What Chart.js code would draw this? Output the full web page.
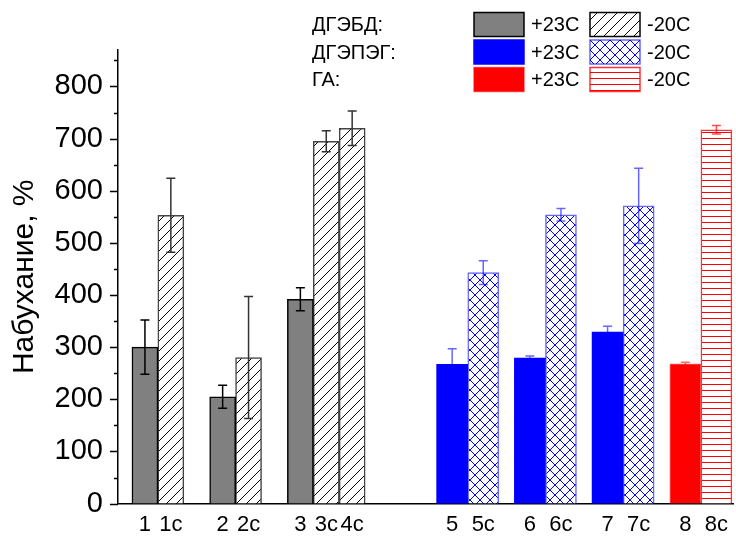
<!DOCTYPE html>
<html>
<head>
<meta charset="utf-8">
<script src="https://cdn.jsdelivr.net/npm/chart.js@4.4.1/dist/chart.umd.min.js"></script>
<style>
  html, body { margin: 0; padding: 0; background: #fff; }
</style>
</head>
<body>
<canvas id="swellChart" width="736" height="536"></canvas>
<script>
// ДГЭБД
const dgebdWarmLabels = ["1", "2", "3"];
const dgebdWarm = [300, 205, 392];
const dgebdWarmErr = [52, 22, 22];
const dgebdColdLabels = ["1c", "2c", "3c", "4c"];
const dgebdCold = [553, 280, 695, 720];
const dgebdColdErr = [71, 117, 20, 33];

// ДГЭПЭГ
const dgepegWarmLabels = ["5", "6", "7"];
const dgepegWarm = [267, 279, 329];
const dgepegWarmErr = [30, 4, 11];
const dgepegColdLabels = ["5c", "6c", "7c"];
const dgepegCold = [443, 554, 571];
const dgepegColdErr = [23, 12, 72];

// ГА
const gaWarmLabels = ["8"];
const gaWarm = [268];
const gaWarmErr = [3];
const gaColdLabels = ["8c"];
const gaCold = [717];
const gaColdErr = [8];

const yTicks = [0, 100, 200, 300, 400, 500, 600, 700, 800];
const legendRows = ["ДГЭБД:", "ДГЭПЭГ:", "ГА:"];
const legendTemps = ["+23C", "-20C"];

const FONT = 'Arial, "Liberation Sans", sans-serif';

// x axis runs in "pair" units: one pair of bars = one unit
const grayW = 1 / 3, blueW = 0.4;
const grayStart = 0.18, blueStart = 4.1;
const grayX = (pair, slot) => grayStart + pair + grayW * (slot + 0.5);
const blueX = (pair, slot) => blueStart + pair + blueW * (slot + 0.5);

function hatch(draw, w, h) {
  const c = document.createElement("canvas");
  c.width = w; c.height = h;
  const g = c.getContext("2d");
  g.fillStyle = "#fff";
  g.fillRect(0, 0, w, h);
  draw(g, w, h);
  return document.getElementById("swellChart").getContext("2d").createPattern(c, "repeat");
}

const diagPattern = hatch(function (g, w, h) {
  g.strokeStyle = "#000";
  g.lineWidth = 1;
  g.beginPath();
  g.moveTo(-1, h + 1); g.lineTo(w + 1, -1);
  g.moveTo(-1, 1); g.lineTo(1, -1);
  g.moveTo(w - 1, h + 1); g.lineTo(w + 1, h - 1);
  g.stroke();
}, 10, 10);

const crossPattern = hatch(function (g, w, h) {
  g.strokeStyle = "#0000ff";
  g.lineWidth = 1;
  g.beginPath();
  g.moveTo(0, h); g.lineTo(w, 0);
  g.moveTo(0, 0); g.lineTo(w, h);
  g.stroke();
}, 10, 10);

const linePattern = hatch(function (g, w, h) {
  g.fillStyle = "#ff0000";
  g.fillRect(0, 0, w, 1);
}, 6, 6);

function points(xs, ys) {
  return ys.map((v, i) => ({ x: xs[i], y: v }));
}

const datasets = [
  {
    data: points([0, 1, 2].map(k => grayX(k, 0)), dgebdWarm),
    err: dgebdWarmErr, errColor: "#000",
    backgroundColor: "#808080", borderColor: "#000", borderWidth: 1.5,
    barThickness: 26
  },
  {
    data: points([grayX(0, 1), grayX(1, 1), grayX(2, 1), grayX(2, 2)], dgebdCold),
    err: dgebdColdErr, errColor: "#333",
    backgroundColor: diagPattern, borderColor: "#444", borderWidth: 1.5,
    barThickness: 26
  },
  {
    data: points([0, 1, 2].map(k => blueX(k, 0)), dgepegWarm),
    err: dgepegWarmErr, errColor: "rgba(0,0,255,0.6)",
    backgroundColor: "#0000ff", borderColor: "#0000ff", borderWidth: 0,
    barThickness: 31
  },
  {
    data: points([0, 1, 2].map(k => blueX(k, 1)), dgepegCold),
    err: dgepegColdErr, errColor: "rgba(0,0,255,0.6)",
    backgroundColor: crossPattern, borderColor: "rgba(0,0,255,0.6)", borderWidth: 1.5,
    barThickness: 31
  },
  {
    data: points([blueX(3, 0)], gaWarm),
    err: gaWarmErr, errColor: "rgba(255,0,0,0.6)",
    backgroundColor: "#ff0000", borderColor: "rgba(255,0,0,0.6)", borderWidth: 1,
    barThickness: 31
  },
  {
    data: points([blueX(3, 1)], gaCold),
    err: gaColdErr, errColor: "rgba(255,0,0,0.7)",
    backgroundColor: linePattern, borderColor: "rgba(255,0,0,0.8)", borderWidth: 1.5,
    barThickness: 31
  }
];

// tick labels sit under the bar centres
const labelSets = [dgebdWarmLabels, dgebdColdLabels, dgepegWarmLabels, dgepegColdLabels, gaWarmLabels, gaColdLabels];
const xTickList = [];
datasets.forEach((ds, d) => ds.data.forEach((p, i) => xTickList.push({ value: p.x, label: labelSets[d][i] })));
xTickList.sort((a, b) => a.value - b.value);

const errorBars = {
  id: "errorBars",
  afterDatasetsDraw(chart) {
    const ctx = chart.ctx;
    const y = chart.scales.y;
    chart.data.datasets.forEach((ds, d) => {
      const meta = chart.getDatasetMeta(d);
      meta.data.forEach((bar, i) => {
        const v = ds.data[i].y, e = ds.err[i];
        const top = y.getPixelForValue(v + e), bot = y.getPixelForValue(v - e);
        ctx.save();
        ctx.strokeStyle = ds.errColor;
        ctx.lineWidth = 1.5;
        ctx.beginPath();
        ctx.moveTo(bar.x, top); ctx.lineTo(bar.x, bot);
        ctx.moveTo(bar.x - 4.5, top); ctx.lineTo(bar.x + 4.5, top);
        ctx.moveTo(bar.x - 4.5, bot); ctx.lineTo(bar.x + 4.5, bot);
        ctx.stroke();
        ctx.restore();
      });
    });
  }
};

const yTickMarks = {
  id: "yTickMarks",
  afterDraw(chart) {
    const ctx = chart.ctx;
    const y = chart.scales.y;
    const left = chart.chartArea.left;
    ctx.save();
    ctx.strokeStyle = "#000";
    ctx.lineWidth = 1.5;
    ctx.beginPath();
    for (let v = 0; v <= 850; v += 50) {
      const py = Math.round(y.getPixelForValue(v)) + 0.5;
      const len = v % 100 === 0 ? 8 : 4;
      ctx.moveTo(left - len, py);
      ctx.lineTo(left, py);
    }
    ctx.stroke();
    ctx.restore();
  }
};

const legendBox = {
  id: "legendBox",
  afterDraw(chart) {
    const ctx = chart.ctx;
    const fills = [["#808080", diagPattern], ["#0000ff", crossPattern], ["#ff0000", linePattern]];
    const borders = [["#000", "#000"], ["#0000ff", "rgba(0,0,255,0.6)"], ["rgba(255,0,0,0.6)", "rgba(255,0,0,0.8)"]];
    ctx.save();
    ctx.font = "20px " + FONT;
    ctx.textBaseline = "middle";
    legendRows.forEach((name, r) => {
      const cy = 24.5 + r * 27.5;
      ctx.fillStyle = "#000";
      ctx.fillText(name, 312, cy + 1);
      [474, 590].forEach((sx, c) => {
        ctx.fillStyle = fills[r][c];
        ctx.fillRect(sx, cy - 12, 50, 24);
        ctx.strokeStyle = borders[r][c];
        ctx.lineWidth = 1.5;
        ctx.strokeRect(sx, cy - 12, 50, 24);
        ctx.fillStyle = "#000";
        ctx.fillText(legendTemps[c], sx + 57, cy + 1);
      });
    });
    ctx.restore();
  }
};

new Chart(document.getElementById("swellChart"), {
  type: "bar",
  data: { datasets: datasets },
  options: {
    responsive: false,
    animation: false,
    grouped: false,
    layout: { padding: { top: 50, right: 0, left: 0, bottom: 0 } },
    plugins: {
      legend: { display: false },
      tooltip: { enabled: false }
    },
    scales: {
      x: {
        type: "linear",
        min: 0,
        max: 7.92,
        offset: false,
        grid: { display: false, drawTicks: false },
        border: { display: true, color: "#000", width: 1.5 },
        afterBuildTicks: function (scale) {
          scale.ticks = xTickList.map(t => ({ value: t.value }));
        },
        afterFit: function (scale) { scale.height = 30; },
        ticks: {
          autoSkip: false,
          maxRotation: 0,
          padding: 8,
          color: "#000",
          font: { family: FONT, size: 22 },
          callback: function (value, index) { return xTickList[index].label; }
        }
      },
      y: {
        min: 0,
        max: 870,
        grid: { display: false, drawTicks: false },
        border: { display: true, color: "#000", width: 1.5 },
        afterBuildTicks: function (scale) {
          scale.ticks = yTicks.map(v => ({ value: v }));
        },
        afterFit: function (scale) { scale.width = 118; },
        ticks: {
          padding: 15,
          color: "#000",
          font: { family: FONT, size: 29 }
        },
        title: {
          display: true,
          text: "Набухание, %",
          color: "#000",
          padding: { top: 7, bottom: 0 },
          font: { family: FONT, size: 30 }
        }
      }
    }
  },
  plugins: [errorBars, yTickMarks, legendBox]
});
</script>
</body>
</html>
